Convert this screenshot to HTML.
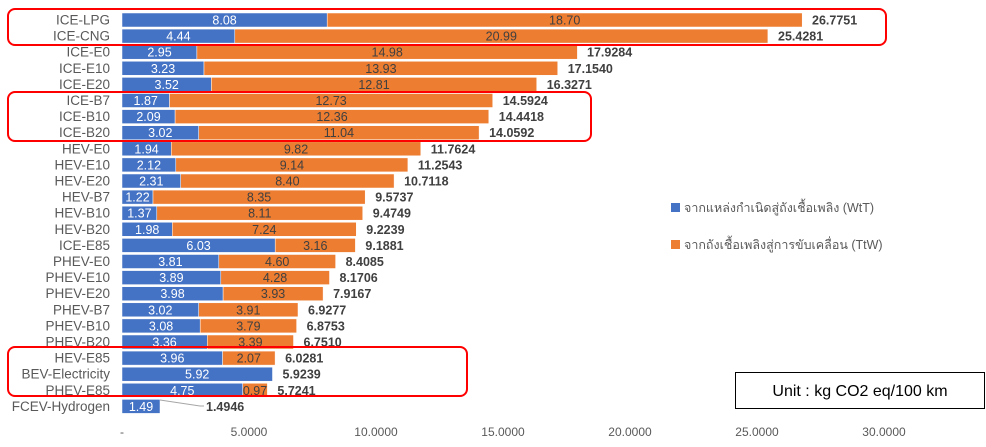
<!DOCTYPE html>
<html><head><meta charset="utf-8"><style>
html,body{margin:0;padding:0;background:#fff;}
svg{display:block;font-family:"Liberation Sans","Noto Sans CJK SC",sans-serif;}
.c{font-size:13.5px;fill:#595959;text-anchor:end;}
.w{font-size:12.5px;fill:#fff;text-anchor:middle;}
.o{font-size:12.5px;fill:#404040;text-anchor:middle;}
.t{font-size:12.5px;fill:#404040;font-weight:bold;}
.a{font-size:12px;fill:#595959;text-anchor:middle;}
.b{fill:#4472C4;stroke:#fff;stroke-width:0.5;}
.r{fill:#ED7D31;stroke:#fff;stroke-width:0.5;}
</style></head><body>
<svg width="986" height="447" viewBox="0 0 986 447" xmlns="http://www.w3.org/2000/svg">
<g>
<rect class="b" x="122" y="13" width="205.2" height="14"/><rect class="r" x="327.2" y="13" width="475" height="14"/>
<text class="c" x="110" y="24.5">ICE-LPG</text><text class="w" x="224.6" y="24.5">8.08</text><text class="o" x="564.7" y="24.5">18.70</text><text class="t" x="812" y="24.5">26.7751</text>
<rect class="b" x="122" y="29.1" width="112.8" height="14"/><rect class="r" x="234.8" y="29.1" width="533.1" height="14"/>
<text class="c" x="110" y="40.6">ICE-CNG</text><text class="w" x="178.4" y="40.6">4.44</text><text class="o" x="501.3" y="40.6">20.99</text><text class="t" x="778" y="40.6">25.4281</text>
<rect class="b" x="122" y="45.2" width="74.9" height="14"/><rect class="r" x="196.9" y="45.2" width="380.5" height="14"/>
<text class="c" x="110" y="56.7">ICE-E0</text><text class="w" x="159.5" y="56.7">2.95</text><text class="o" x="387.2" y="56.7">14.98</text><text class="t" x="587" y="56.7">17.9284</text>
<rect class="b" x="122" y="61.3" width="82" height="14"/><rect class="r" x="204" y="61.3" width="353.7" height="14"/>
<text class="c" x="110" y="72.8">ICE-E10</text><text class="w" x="163" y="72.8">3.23</text><text class="o" x="380.9" y="72.8">13.93</text><text class="t" x="567.7" y="72.8">17.1540</text>
<rect class="b" x="122" y="77.4" width="89.4" height="14"/><rect class="r" x="211.4" y="77.4" width="325.3" height="14"/>
<text class="c" x="110" y="88.9">ICE-E20</text><text class="w" x="166.7" y="88.9">3.52</text><text class="o" x="374" y="88.9">12.81</text><text class="t" x="546.7" y="88.9">16.3271</text>
<rect class="b" x="122" y="93.5" width="47.5" height="14"/><rect class="r" x="169.5" y="93.5" width="323.2" height="14"/>
<text class="c" x="110" y="105">ICE-B7</text><text class="w" x="145.7" y="105">1.87</text><text class="o" x="331.1" y="105">12.73</text><text class="t" x="502.7" y="105">14.5924</text>
<rect class="b" x="122" y="109.6" width="53.1" height="14"/><rect class="r" x="175.1" y="109.6" width="313.7" height="14"/>
<text class="c" x="110" y="121.1">ICE-B10</text><text class="w" x="148.5" y="121.1">2.09</text><text class="o" x="332" y="121.1">12.36</text><text class="t" x="498.8" y="121.1">14.4418</text>
<rect class="b" x="122" y="125.7" width="76.7" height="14"/><rect class="r" x="198.7" y="125.7" width="280.4" height="14"/>
<text class="c" x="110" y="137.2">ICE-B20</text><text class="w" x="160.3" y="137.2">3.02</text><text class="o" x="338.9" y="137.2">11.04</text><text class="t" x="489.1" y="137.2">14.0592</text>
<rect class="b" x="122" y="141.8" width="49.3" height="14"/><rect class="r" x="171.3" y="141.8" width="249.5" height="14"/>
<text class="c" x="110" y="153.3">HEV-E0</text><text class="w" x="146.6" y="153.3">1.94</text><text class="o" x="296" y="153.3">9.82</text><text class="t" x="430.8" y="153.3">11.7624</text>
<rect class="b" x="122" y="157.9" width="53.8" height="14"/><rect class="r" x="175.8" y="157.9" width="232.1" height="14"/>
<text class="c" x="110" y="169.4">HEV-E10</text><text class="w" x="148.9" y="169.4">2.12</text><text class="o" x="291.9" y="169.4">9.14</text><text class="t" x="417.9" y="169.4">11.2543</text>
<rect class="b" x="122" y="174" width="58.7" height="14"/><rect class="r" x="180.7" y="174" width="213.4" height="14"/>
<text class="c" x="110" y="185.5">HEV-E20</text><text class="w" x="151.3" y="185.5">2.31</text><text class="o" x="287.4" y="185.5">8.40</text><text class="t" x="404.1" y="185.5">10.7118</text>
<rect class="b" x="122" y="190.1" width="31" height="14"/><rect class="r" x="153" y="190.1" width="212.2" height="14"/>
<text class="c" x="110" y="201.6">HEV-B7</text><text class="w" x="137.5" y="201.6">1.22</text><text class="o" x="259.1" y="201.6">8.35</text><text class="t" x="375.2" y="201.6">9.5737</text>
<rect class="b" x="122" y="206.2" width="34.8" height="14"/><rect class="r" x="156.8" y="206.2" width="205.9" height="14"/>
<text class="c" x="110" y="217.7">HEV-B10</text><text class="w" x="139.4" y="217.7">1.37</text><text class="o" x="259.8" y="217.7">8.11</text><text class="t" x="372.7" y="217.7">9.4749</text>
<rect class="b" x="122" y="222.3" width="50.3" height="14"/><rect class="r" x="172.3" y="222.3" width="184" height="14"/>
<text class="c" x="110" y="233.8">HEV-B20</text><text class="w" x="147.2" y="233.8">1.98</text><text class="o" x="264.3" y="233.8">7.24</text><text class="t" x="366.3" y="233.8">9.2239</text>
<rect class="b" x="122" y="238.4" width="153.2" height="14"/><rect class="r" x="275.2" y="238.4" width="80.2" height="14"/>
<text class="c" x="110" y="249.9">ICE-E85</text><text class="w" x="198.6" y="249.9">6.03</text><text class="o" x="315.3" y="249.9">3.16</text><text class="t" x="365.4" y="249.9">9.1881</text>
<rect class="b" x="122" y="254.5" width="96.8" height="14"/><rect class="r" x="218.8" y="254.5" width="116.8" height="14"/>
<text class="c" x="110" y="266">PHEV-E0</text><text class="w" x="170.4" y="266">3.81</text><text class="o" x="277.2" y="266">4.60</text><text class="t" x="345.6" y="266">8.4085</text>
<rect class="b" x="122" y="270.6" width="98.8" height="14"/><rect class="r" x="220.8" y="270.6" width="108.7" height="14"/>
<text class="c" x="110" y="282.1">PHEV-E10</text><text class="w" x="171.4" y="282.1">3.89</text><text class="o" x="275.1" y="282.1">4.28</text><text class="t" x="339.5" y="282.1">8.1706</text>
<rect class="b" x="122" y="286.7" width="101.1" height="14"/><rect class="r" x="223.1" y="286.7" width="100" height="14"/>
<text class="c" x="110" y="298.2">PHEV-E20</text><text class="w" x="172.5" y="298.2">3.98</text><text class="o" x="273.1" y="298.2">3.93</text><text class="t" x="333.1" y="298.2">7.9167</text>
<rect class="b" x="122" y="302.8" width="76.7" height="14"/><rect class="r" x="198.7" y="302.8" width="99.3" height="14"/>
<text class="c" x="110" y="314.3">PHEV-B7</text><text class="w" x="160.3" y="314.3">3.02</text><text class="o" x="248.3" y="314.3">3.91</text><text class="t" x="308" y="314.3">6.9277</text>
<rect class="b" x="122" y="318.9" width="78.2" height="14"/><rect class="r" x="200.2" y="318.9" width="96.4" height="14"/>
<text class="c" x="110" y="330.4">PHEV-B10</text><text class="w" x="161.1" y="330.4">3.08</text><text class="o" x="248.4" y="330.4">3.79</text><text class="t" x="306.6" y="330.4">6.8753</text>
<rect class="b" x="122" y="335" width="85.3" height="14"/><rect class="r" x="207.3" y="335" width="86.2" height="14"/>
<text class="c" x="110" y="346.5">PHEV-B20</text><text class="w" x="164.6" y="346.5">3.36</text><text class="o" x="250.4" y="346.5">3.39</text><text class="t" x="303.5" y="346.5">6.7510</text>
<rect class="b" x="122" y="351.1" width="100.6" height="14"/><rect class="r" x="222.6" y="351.1" width="52.5" height="14"/>
<text class="c" x="110" y="362.6">HEV-E85</text><text class="w" x="172.3" y="362.6">3.96</text><text class="o" x="248.8" y="362.6">2.07</text><text class="t" x="285.1" y="362.6">6.0281</text>
<rect class="b" x="122" y="367.2" width="150.5" height="14"/>
<text class="c" x="110" y="378.7">BEV-Electricity</text><text class="w" x="197.2" y="378.7">5.92</text><text class="t" x="282.5" y="378.7">5.9239</text>
<rect class="b" x="122" y="383.3" width="120.7" height="14"/><rect class="r" x="242.7" y="383.3" width="24.7" height="14"/>
<text class="c" x="110" y="394.8">PHEV-E85</text><text class="w" x="182.3" y="394.8">4.75</text><text class="o" x="255" y="394.8">0.97</text><text class="t" x="277.4" y="394.8">5.7241</text>
<rect class="b" x="122" y="399.4" width="38" height="14"/>
<polyline points="160,400 200,406 204,406" fill="none" stroke="#a6a6a6" stroke-width="1"/>
<text class="c" x="110" y="410.9">FCEV-Hydrogen</text><text class="w" x="141" y="410.9">1.49</text><text class="t" x="206" y="410.9">1.4946</text>
</g>
<text class="a" x="122" y="436">-</text>
<text class="a" x="249" y="436">5.0000</text>
<text class="a" x="376" y="436">10.0000</text>
<text class="a" x="503" y="436">15.0000</text>
<text class="a" x="630" y="436">20.0000</text>
<text class="a" x="757" y="436">25.0000</text>
<text class="a" x="884" y="436">30.0000</text>
<rect x="8" y="9" width="878" height="36" rx="7" fill="none" stroke="#FF0000" stroke-width="2"/>
<rect x="8" y="92" width="583" height="49" rx="7" fill="none" stroke="#FF0000" stroke-width="2"/>
<rect x="8" y="347" width="459" height="49" rx="7" fill="none" stroke="#FF0000" stroke-width="2"/>
<rect x="671" y="203" width="9" height="9" fill="#4472C4"/>
<text x="684" y="212" font-size="12.5" fill="#595959">จากแหล่งกำเนิดสู่ถังเชื้อเพลิง (WtT)</text>
<rect x="671" y="240" width="9" height="9" fill="#ED7D31"/>
<text x="684" y="249" font-size="12.5" fill="#595959">จากถังเชื้อเพลิงสู่การขับเคลื่อน (TtW)</text>
<rect x="735.5" y="372.5" width="249" height="36" fill="#fff" stroke="#000" stroke-width="1"/>
<text x="860" y="396" font-size="16" fill="#000" text-anchor="middle">Unit : kg CO2 eq/100 km</text>
</svg>
</body></html>
